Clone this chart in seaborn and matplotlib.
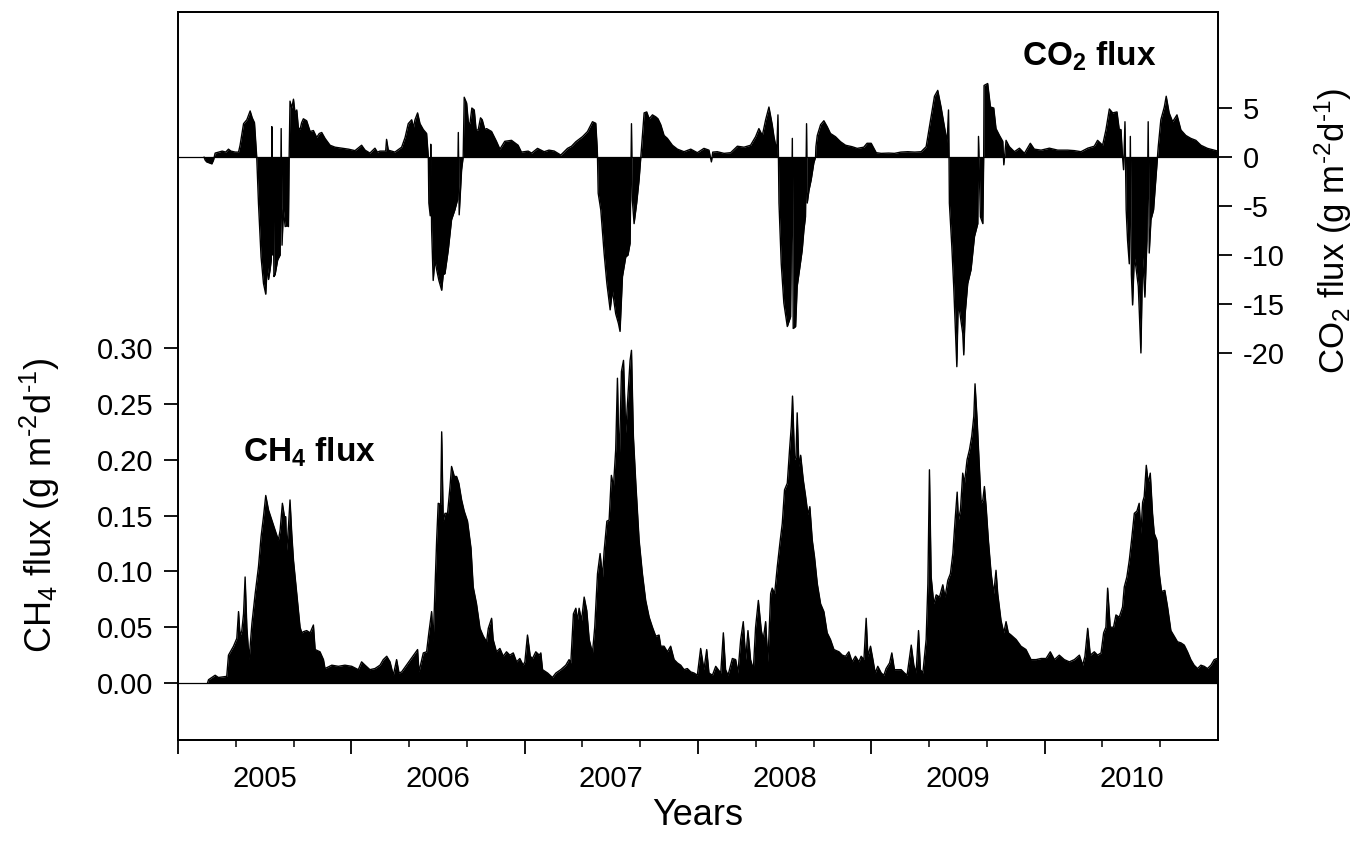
import numpy as np
import matplotlib
matplotlib.use("Agg")
import matplotlib.pyplot as plt
import matplotlib.ticker as mticker
import seaborn as sns

# ---------------- data ----------------
co2_year = [
    2005.150, 2005.156, 2005.165, 2005.180, 2005.195, 2005.205, 2005.214, 2005.235, 2005.255, 2005.275,
    2005.291, 2005.305, 2005.330, 2005.349, 2005.358, 2005.378, 2005.397, 2005.410, 2005.416, 2005.428,
    2005.441, 2005.450, 2005.454, 2005.464, 2005.479, 2005.493, 2005.506, 2005.515, 2005.522, 2005.531,
    2005.538, 2005.541, 2005.545, 2005.549, 2005.553, 2005.560, 2005.575, 2005.589, 2005.595, 2005.600,
    2005.608, 2005.618, 2005.630, 2005.637, 2005.641, 2005.646, 2005.656, 2005.666, 2005.675, 2005.685,
    2005.694, 2005.704, 2005.713, 2005.723, 2005.742, 2005.762, 2005.781, 2005.800, 2005.815, 2005.829,
    2005.848, 2005.877, 2005.906, 2005.944, 2005.983, 2006.021, 2006.059, 2006.079, 2006.107, 2006.136,
    2006.150, 2006.165, 2006.198, 2006.203, 2006.213, 2006.251, 2006.290, 2006.310, 2006.328, 2006.348,
    2006.358, 2006.367, 2006.382, 2006.396, 2006.415, 2006.434, 2006.444, 2006.447, 2006.455, 2006.458,
    2006.463, 2006.472, 2006.482, 2006.492, 2006.505, 2006.521, 2006.530, 2006.540, 2006.559, 2006.578,
    2006.597, 2006.612, 2006.617, 2006.622, 2006.636, 2006.645, 2006.651, 2006.665, 2006.675, 2006.684,
    2006.695, 2006.709, 2006.720, 2006.732, 2006.745, 2006.755, 2006.770, 2006.780, 2006.809, 2006.837,
    2006.857, 2006.885, 2006.924, 2006.962, 2006.981,
    2006.997, 2007.020, 2007.040, 2007.074, 2007.112, 2007.140, 2007.170, 2007.208, 2007.247, 2007.270,
    2007.295, 2007.333, 2007.362, 2007.391, 2007.410, 2007.418, 2007.420, 2007.424, 2007.439, 2007.458,
    2007.474, 2007.493, 2007.506, 2007.525, 2007.541, 2007.550, 2007.564, 2007.583, 2007.596, 2007.608,
    2007.616, 2007.621, 2007.631, 2007.646, 2007.660, 2007.670, 2007.675, 2007.689, 2007.704, 2007.718,
    2007.737, 2007.756, 2007.769, 2007.785, 2007.804, 2007.823, 2007.852, 2007.881, 2007.919, 2007.958,
    2007.996, 2008.034, 2008.063, 2008.077, 2008.085, 2008.111, 2008.150, 2008.188, 2008.227, 2008.265,
    2008.303, 2008.332, 2008.351, 2008.371, 2008.390, 2008.409, 2008.428, 2008.438, 2008.450, 2008.453,
    2008.461, 2008.467, 2008.480, 2008.495, 2008.515, 2008.534, 2008.544, 2008.549, 2008.563, 2008.572,
    2008.588, 2008.601, 2008.611, 2008.620, 2008.626, 2008.630, 2008.640, 2008.653, 2008.668, 2008.678,
    2008.680, 2008.688, 2008.707, 2008.726, 2008.745, 2008.764, 2008.793, 2008.822, 2008.851, 2008.889,
    2008.918, 2008.956, 2008.975,
    2008.999, 2009.028, 2009.057, 2009.100, 2009.133, 2009.170, 2009.210, 2009.250, 2009.287, 2009.316,
    2009.335, 2009.364, 2009.383, 2009.402, 2009.425, 2009.437, 2009.445, 2009.448, 2009.450, 2009.464,
    2009.475, 2009.489, 2009.493, 2009.500, 2009.508, 2009.527, 2009.533, 2009.541, 2009.556, 2009.575,
    2009.595, 2009.614, 2009.618, 2009.629, 2009.643, 2009.648, 2009.650, 2009.671, 2009.687, 2009.706,
    2009.719, 2009.739, 2009.758, 2009.764, 2009.777, 2009.796, 2009.825, 2009.854, 2009.883, 2009.917,
    2009.940, 2009.979, 2010.027, 2010.075, 2010.132, 2010.171, 2010.209, 2010.248, 2010.286, 2010.305,
    2010.334, 2010.353, 2010.373, 2010.392, 2010.417, 2010.430, 2010.440, 2010.449, 2010.455, 2010.463,
    2010.470, 2010.478, 2010.488, 2010.494, 2010.500, 2010.507, 2010.517, 2010.526, 2010.540, 2010.555,
    2010.565, 2010.578, 2010.590, 2010.597, 2010.603, 2010.613, 2010.628, 2010.641, 2010.651, 2010.655,
    2010.670, 2010.690, 2010.701, 2010.718, 2010.738, 2010.763, 2010.786, 2010.814, 2010.843, 2010.872,
    2010.901, 2010.939, 2010.978, 2010.999,
]
co2_flux = [
    0.0, -0.3, -0.5, -0.6, -0.7, -0.3, 0.4, 0.5, 0.6, 0.5,
    0.8, 0.6, 0.5, 0.5, 1.2, 3.4, 3.8, 4.4, 4.7, 4.0,
    3.5, 1.0, 0.0, -4.7, -10.2, -12.9, -14.0, -11.0, -12.5, -11.5,
    -10.5, 3.1, -10.0, -2.0, -12.2, -12.0, -10.5, -10.0, 2.9, -9.0,
    -5.4, -7.1, -7.0, -7.1, 0.0, 5.7, 5.0, 5.9, 4.5, 4.8,
    3.0, 2.8, 3.5, 3.9, 3.7, 2.6, 2.7, 2.0, 2.4, 2.5,
    1.9, 1.2, 1.0, 0.9, 0.8, 0.65, 1.2, 0.7, 0.4, 0.9,
    0.5, 0.6, 0.6, 1.8, 0.7, 0.5, 1.0, 2.0, 3.4, 3.8,
    3.0, 3.8, 4.5, 3.4, 2.8, 2.4, 0.0, -4.7, -6.0, 1.3,
    -7.4, -12.6, -10.5, -11.5, -12.6, -13.6, -12.0, -11.9, -9.5, -6.4,
    -5.4, -4.4, 2.5, -5.9, -1.3, 0.0, 6.1, 5.5, 3.5, 3.4,
    5.0, 4.8, 2.7, 2.8, 4.0, 3.8, 2.8, 2.9, 2.6, 1.6,
    0.8, 1.6, 1.7, 1.2, 0.5,
    0.54, 0.6, 0.4, 0.88, 0.54, 0.7, 0.61, 0.2, 0.88, 1.1,
    1.56, 2.07, 2.59, 3.6, 3.44, 1.0, 0.0, -3.7, -5.4, -9.8,
    -12.9, -15.6, -13.6, -16.0, -17.0, -17.8, -12.2, -10.2, -10.0, -8.8,
    3.4, -4.4, -6.8, -4.7, -2.3, 0.0, 1.05, 4.5, 4.6, 3.9,
    4.3, 4.1, 3.9, 3.3, 2.2, 1.9, 1.2, 0.8, 0.54, 0.8,
    0.44, 0.88, 0.7, -0.5, 0.5, 0.54, 0.37, 0.44, 1.1, 1.0,
    1.2, 2.07, 2.9, 2.2, 3.8, 5.1, 3.3, 2.07, 1.0, 0.0,
    4.3, -4.7, -10.9, -14.9, -17.3, -16.3, 1.9, -17.5, -17.3, -13.2,
    -11.2, -9.5, -7.4, -6.1, 3.4, -4.7, -3.4, -2.3, -0.6, 0.0,
    1.05, 2.2, 3.3, 3.7, 3.1, 2.4, 2.07, 1.56, 1.2, 1.05,
    0.88, 1.0, 1.4,
    1.4, 0.44, 0.37, 0.4, 0.37, 0.5, 0.54, 0.5, 0.54, 1.05,
    3.1, 6.2, 6.8, 5.1, 2.75, 1.5, 4.8, 0.0, -4.7, -9.1,
    -13.2, -19.4, -21.4, -15.6, -15.6, -18.0, -20.2, -16.0, -12.9, -11.5,
    -8.1, -6.8, 2.1, -6.1, -6.8, 0.0, 7.3, 7.5, 5.1, 5.0,
    2.9, 2.2, 1.6, -0.8, 1.7, 1.05, 0.54, 0.9, 0.37, 1.4,
    0.8, 0.7, 0.9, 0.7, 0.7, 0.65, 0.54, 0.9, 1.1, 1.7,
    1.2, 2.75, 4.9, 4.5, 4.6, 2.8, 2.8, 0.0, -1.3, 3.6,
    -5.4, -8.5, -10.9, 2.1, -12.0, -15.1, -10.2, -11.2, -13.2, -20.0,
    -10.2, -14.3, -8.5, 3.6, -9.8, -6.4, -5.4, -2.3, 0.0, 1.05,
    3.8, 5.1, 6.2, 4.5, 3.6, 4.3, 2.75, 2.2, 1.9, 1.7,
    1.2, 0.88, 0.7, 0.6,
]

ch4_year = [
    2005.170, 2005.176, 2005.214, 2005.233, 2005.281, 2005.291, 2005.320, 2005.339, 2005.349, 2005.358,
    2005.368, 2005.378, 2005.387, 2005.397, 2005.410, 2005.426, 2005.445, 2005.464, 2005.479, 2005.493,
    2005.506, 2005.522, 2005.541, 2005.560, 2005.579, 2005.589, 2005.602, 2005.614, 2005.621, 2005.627,
    2005.637, 2005.646, 2005.656, 2005.666, 2005.685, 2005.704, 2005.714, 2005.723, 2005.742, 2005.762,
    2005.781, 2005.791, 2005.819, 2005.839, 2005.848, 2005.887, 2005.925, 2005.963, 2006.002, 2006.040,
    2006.059, 2006.079, 2006.107, 2006.136, 2006.165, 2006.184, 2006.204, 2006.223, 2006.242, 2006.261,
    2006.275, 2006.290, 2006.382, 2006.390, 2006.415, 2006.434, 2006.447, 2006.463, 2006.472, 2006.492,
    2006.501, 2006.515, 2006.521, 2006.530, 2006.540, 2006.555, 2006.569, 2006.578, 2006.594, 2006.607,
    2006.620, 2006.636, 2006.651, 2006.670, 2006.690, 2006.703, 2006.722, 2006.742, 2006.761, 2006.780,
    2006.790, 2006.809, 2006.818, 2006.837, 2006.857, 2006.876, 2006.895, 2006.914, 2006.934, 2006.953,
    2006.972, 2006.991, 2007.001,
    2007.016, 2007.032, 2007.045, 2007.064, 2007.084, 2007.093, 2007.103, 2007.132, 2007.160, 2007.180,
    2007.208, 2007.237, 2007.256, 2007.266, 2007.281, 2007.295, 2007.304, 2007.314, 2007.328, 2007.343,
    2007.358, 2007.372, 2007.391, 2007.404, 2007.420, 2007.435, 2007.449, 2007.458, 2007.474, 2007.487,
    2007.500, 2007.512, 2007.525, 2007.535, 2007.545, 2007.558, 2007.570, 2007.583, 2007.593, 2007.608,
    2007.616, 2007.627, 2007.641, 2007.660, 2007.679, 2007.698, 2007.718, 2007.737, 2007.756, 2007.775,
    2007.785, 2007.804, 2007.823, 2007.842, 2007.862, 2007.881, 2007.900, 2007.919, 2007.938, 2007.958,
    2007.977, 2007.996, 2008.015, 2008.034, 2008.050, 2008.063, 2008.083, 2008.102, 2008.131, 2008.146,
    2008.159, 2008.173, 2008.198, 2008.217, 2008.230, 2008.246, 2008.261, 2008.275, 2008.288, 2008.303,
    2008.319, 2008.332, 2008.348, 2008.365, 2008.376, 2008.390, 2008.403, 2008.419, 2008.428, 2008.442,
    2008.457, 2008.472, 2008.486, 2008.499, 2008.515, 2008.528, 2008.538, 2008.545, 2008.557, 2008.565,
    2008.572, 2008.582, 2008.592, 2008.607, 2008.620, 2008.634, 2008.645, 2008.659, 2008.672, 2008.688,
    2008.707, 2008.726, 2008.745, 2008.764, 2008.784, 2008.813, 2008.832, 2008.851, 2008.870, 2008.889,
    2008.908, 2008.928, 2008.941, 2008.957, 2008.970, 2008.980,
    2008.995, 2009.009, 2009.022, 2009.037, 2009.057, 2009.072, 2009.085, 2009.105, 2009.118, 2009.133,
    2009.153, 2009.172, 2009.191, 2009.206, 2009.230, 2009.245, 2009.258, 2009.272, 2009.283, 2009.297,
    2009.316, 2009.326, 2009.335, 2009.345, 2009.360, 2009.374, 2009.393, 2009.412, 2009.425, 2009.441,
    2009.456, 2009.470, 2009.483, 2009.495, 2009.502, 2009.514, 2009.527, 2009.537, 2009.552, 2009.566,
    2009.579, 2009.591, 2009.598, 2009.610, 2009.623, 2009.633, 2009.643, 2009.652, 2009.662, 2009.675,
    2009.691, 2009.706, 2009.719, 2009.729, 2009.748, 2009.764, 2009.777, 2009.790, 2009.806, 2009.835,
    2009.863, 2009.892, 2009.921, 2009.950, 2009.979, 2010.008, 2010.032, 2010.056, 2010.084, 2010.113,
    2010.142, 2010.171, 2010.200, 2010.219, 2010.232, 2010.248, 2010.263, 2010.286, 2010.305, 2010.325,
    2010.340, 2010.353, 2010.363, 2010.378, 2010.397, 2010.411, 2010.430, 2010.449, 2010.459, 2010.474,
    2010.488, 2010.501, 2010.517, 2010.532, 2010.545, 2010.555, 2010.565, 2010.574, 2010.586, 2010.597,
    2010.609, 2010.622, 2010.632, 2010.647, 2010.661, 2010.674, 2010.693, 2010.709, 2010.728, 2010.747,
    2010.766, 2010.786, 2010.805, 2010.824, 2010.843, 2010.862, 2010.882, 2010.901, 2010.920, 2010.939,
    2010.959, 2010.978, 2010.995,
]
ch4_flux = [
    0.000, 0.003, 0.007, 0.005, 0.006, 0.025, 0.033, 0.040, 0.064, 0.042,
    0.047, 0.062, 0.095, 0.050, 0.021, 0.053, 0.080, 0.104, 0.131, 0.149,
    0.168, 0.155, 0.146, 0.137, 0.128, 0.137, 0.161, 0.149, 0.149, 0.119,
    0.140, 0.164, 0.134, 0.110, 0.080, 0.050, 0.045, 0.046, 0.047, 0.045,
    0.052, 0.030, 0.028, 0.021, 0.013, 0.016, 0.015, 0.016, 0.015, 0.012,
    0.019, 0.016, 0.012, 0.013, 0.016, 0.021, 0.024, 0.019, 0.007, 0.021,
    0.009, 0.010, 0.030, 0.010, 0.027, 0.028, 0.045, 0.064, 0.037, 0.128,
    0.161, 0.160, 0.225, 0.145, 0.152, 0.152, 0.176, 0.194, 0.185, 0.185,
    0.179, 0.164, 0.154, 0.145, 0.121, 0.086, 0.071, 0.049, 0.042, 0.037,
    0.049, 0.058, 0.039, 0.028, 0.031, 0.024, 0.028, 0.025, 0.027, 0.019,
    0.022, 0.016, 0.019,
    0.043, 0.024, 0.022, 0.028, 0.025, 0.027, 0.012, 0.009, 0.005, 0.009,
    0.012, 0.016, 0.021, 0.018, 0.062, 0.067, 0.056, 0.067, 0.056, 0.077,
    0.065, 0.039, 0.027, 0.050, 0.098, 0.116, 0.095, 0.118, 0.145, 0.146,
    0.186, 0.176, 0.209, 0.273, 0.194, 0.279, 0.289, 0.224, 0.251, 0.289,
    0.298, 0.221, 0.179, 0.128, 0.098, 0.074, 0.059, 0.050, 0.042, 0.043,
    0.033, 0.033, 0.028, 0.033, 0.021, 0.018, 0.016, 0.012, 0.013, 0.010,
    0.009, 0.007, 0.031, 0.012, 0.030, 0.009, 0.007, 0.015, 0.009, 0.045,
    0.012, 0.007, 0.022, 0.021, 0.009, 0.039, 0.055, 0.021, 0.047, 0.021,
    0.012, 0.050, 0.074, 0.047, 0.039, 0.055, 0.019, 0.080, 0.085, 0.080,
    0.104, 0.125, 0.143, 0.173, 0.179, 0.209, 0.230, 0.257, 0.200, 0.203,
    0.242, 0.194, 0.204, 0.182, 0.168, 0.151, 0.158, 0.128, 0.113, 0.089,
    0.071, 0.064, 0.045, 0.039, 0.030, 0.028, 0.025, 0.024, 0.028, 0.019,
    0.024, 0.019, 0.024, 0.021, 0.058, 0.024,
    0.033, 0.021, 0.009, 0.015, 0.009, 0.007, 0.013, 0.018, 0.027, 0.012,
    0.012, 0.012, 0.009, 0.007, 0.034, 0.016, 0.009, 0.047, 0.012, 0.009,
    0.039, 0.089, 0.191, 0.095, 0.071, 0.079, 0.077, 0.088, 0.077, 0.092,
    0.098, 0.116, 0.146, 0.171, 0.146, 0.155, 0.188, 0.179, 0.200, 0.209,
    0.221, 0.239, 0.268, 0.236, 0.194, 0.161, 0.164, 0.176, 0.158, 0.128,
    0.098, 0.080, 0.101, 0.080, 0.056, 0.045, 0.055, 0.045, 0.043, 0.039,
    0.033, 0.030, 0.021, 0.021, 0.022, 0.022, 0.028, 0.021, 0.025, 0.021,
    0.019, 0.021, 0.025, 0.016, 0.024, 0.049, 0.025, 0.028, 0.025, 0.027,
    0.045, 0.050, 0.085, 0.050, 0.050, 0.061, 0.059, 0.068, 0.086, 0.095,
    0.110, 0.128, 0.152, 0.154, 0.161, 0.134, 0.162, 0.167, 0.195, 0.179,
    0.188, 0.152, 0.134, 0.128, 0.098, 0.082, 0.083, 0.068, 0.047, 0.042,
    0.037, 0.036, 0.034, 0.028, 0.021, 0.016, 0.013, 0.016, 0.015, 0.013,
    0.016, 0.021, 0.022,
]

year_labels = ["2005", "2006", "2007", "2008", "2009", "2010"]
ch4_ticks = [0.00, 0.05, 0.10, 0.15, 0.20, 0.25, 0.30]
co2_ticks = [-20, -15, -10, -5, 0, 5]

assert len(co2_year) == len(co2_flux)
assert len(ch4_year) == len(ch4_flux)

# ---------------- style ----------------
sns.set_theme(style="ticks")
plt.rcParams["font.family"] = ["Liberation Sans", "DejaVu Sans"]
plt.rcParams["mathtext.fontset"] = "custom"
plt.rcParams["mathtext.rm"] = "Liberation Sans"
plt.rcParams["mathtext.it"] = "Liberation Sans:italic"
plt.rcParams["mathtext.bf"] = "Liberation Sans:bold"
plt.rcParams["axes.unicode_minus"] = False
plt.rcParams["text.color"] = "black"
plt.rcParams["axes.labelcolor"] = "black"
plt.rcParams["xtick.color"] = "black"
plt.rcParams["ytick.color"] = "black"

TICK_FS = 21

fig = plt.figure(figsize=(13.57, 8.56), dpi=100)
ax = fig.add_axes([0.1312, 0.1355, 0.7664, 0.8505])
ax2 = ax.twinx()

# CH4 (left axis)
ax.fill_between(ch4_year, ch4_flux, 0, color="black", linewidth=0)
sns.lineplot(x=ch4_year, y=ch4_flux, ax=ax, color="black", linewidth=1.0,
             estimator=None, sort=False, legend=False)
ax.axhline(0, color="black", linewidth=0.9)

# CO2 (right axis)
ax2.fill_between(co2_year, co2_flux, 0, color="black", linewidth=0)
sns.lineplot(x=co2_year, y=co2_flux, ax=ax2, color="black", linewidth=1.0,
             estimator=None, sort=False, legend=False)
ax2.axhline(0, color="black", linewidth=0.9)

ax.set_xlim(2005, 2011)
ax.set_ylim(-0.051, 0.601)
ax2.set_ylim(-59.5, 14.8)

# ticks
years = [int(y) for y in year_labels]
ax.set_xticks(years)
ax.set_xticklabels([""] * len(years))
ax.set_xticks([y + k / 3 for y in years for k in (1, 2)], minor=True)
ax.tick_params(axis="x", which="major", direction="out", length=10, width=1.3)
ax.tick_params(axis="x", which="minor", direction="out", length=5, width=1.1)
for y, lab in zip(years, year_labels):
    ax.text(y + 0.5, -0.054, lab, transform=ax.get_xaxis_transform(),
            ha="center", va="center", fontsize=TICK_FS)

ax.set_yticks(ch4_ticks)
ax.yaxis.set_major_formatter(mticker.FormatStrFormatter("%.2f"))
ax.tick_params(axis="y", which="major", direction="out", length=10, width=1.3,
               labelsize=TICK_FS, pad=8)
ax2.set_yticks(co2_ticks)
ax2.tick_params(axis="y", which="major", direction="out", length=10, width=1.3,
                labelsize=TICK_FS, pad=8)
ax2.yaxis.set_minor_locator(mticker.NullLocator())
ax.yaxis.set_minor_locator(mticker.NullLocator())

for a in (ax, ax2):
    for s in a.spines.values():
        s.set_linewidth(1.3)
        s.set_color("black")

# labels
ax.set_xlabel("Years", fontsize=26)
ax.xaxis.set_label_coords(0.5, -0.104)
ax.xaxis.label.set_va("center")

ax.set_ylabel(r"CH$_4$ flux (g m$^{\text{-2}}$d$^{\text{-1}}$)", fontsize=26)
ax.yaxis.set_label_coords(-0.133, 0.322)
ax.yaxis.label.set_va("center")

ax2.set_ylabel(r"CO$_2$ flux (g m$^{\text{-2}}$d$^{\text{-1}}$)", fontsize=25, rotation=90)
ax2.yaxis.set_label_coords(1.111, 0.70)
ax2.yaxis.label.set_va("center")

ax2.text(2009.867, 9.3, r"CO$_\mathbf{2}$ flux", fontsize=24, fontweight="bold",
         ha="left", va="baseline")
ax.text(2005.377, 0.198, r"CH$_\mathbf{4}$ flux", fontsize=24, fontweight="bold",
        ha="left", va="baseline")

fig.savefig("out.png", dpi=100)
